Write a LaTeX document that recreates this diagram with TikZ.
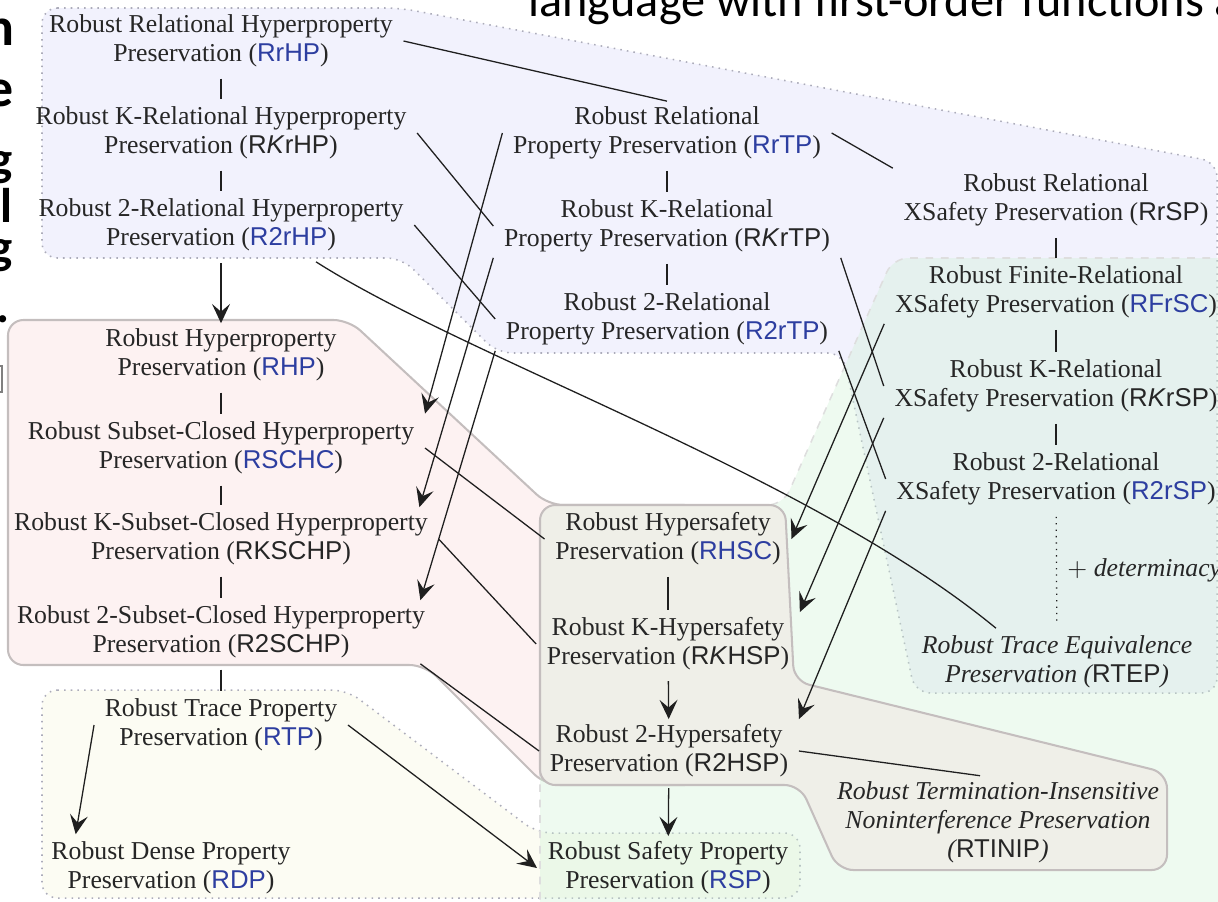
\documentclass[tikz,border=0pt]{standalone}
\usepackage{fontspec}
\setmainfont{Liberation Serif}
\newfontfamily\acrfont{Liberation Sans}
\newfontfamily\slidefont{Carlito}
\usepackage{tikz}
\usetikzlibrary{arrows.meta, calc}

\definecolor{txtgray}{RGB}{38,38,38}
\definecolor{acblue}{RGB}{45,62,160}
\definecolor{relfill}{RGB}{242,242,253}
\definecolor{hyperfill}{RGB}{253,242,242}
\definecolor{hsafefill}{RGB}{239,239,232}
\definecolor{tracefill}{RGB}{252,252,243}
\definecolor{safefill}{RGB}{206,241,212}
\definecolor{dotedge}{RGB}{172,172,186}
\definecolor{solidedge}{RGB}{196,190,190}

\newcommand{\acr}[1]{{\acrfont\upshape #1}}
\newcommand{\bacr}[1]{\textcolor{acblue}{\acrfont\upshape #1}}

\begin{document}
\begin{tikzpicture}[x=0.39pt, y=-0.39pt,
    prop/.style={align=center, text=txtgray, inner xsep=4pt, inner ysep=2pt, font=\fontsize{10.05}{11.3}\selectfont},
    itprop/.style={prop, font=\fontsize{10.05}{11.3}\selectfont\itshape},
    link/.style={line width=0.5pt, draw=black!88},
    vlink/.style={link, shorten <=2.3pt, shorten >=0.8pt},
    arr/.style={link, -{Stealth[length=7.5pt, width=7pt, inset=3pt]}},
    region/.style={rounded corners=6pt, line width=0.6pt}]
    \useasboundingbox (0,0) rectangle (1218,901);
    \clip (0,0) rectangle (1218,901);

    % Slide text cut off at the edges
    \node[anchor=base west, inner sep=0, font=\slidefont\fontsize{18.8}{20}\selectfont] (slidetitle) at (528,16) {language with first-order functions a};
    \node[anchor=base east, inner sep=0, font=\slidefont\bfseries\fontsize{21}{22}\selectfont] (cutn) at (15,45) {n};
    \node[anchor=base east, inner sep=0, font=\slidefont\bfseries\fontsize{21}{22}\selectfont] (cute) at (14,106) {e};
    \node[anchor=base east, inner sep=0, font=\slidefont\bfseries\fontsize{19}{20}\selectfont] (cutg) at (13,175) {g};
    \node[anchor=base east, inner sep=0, font=\slidefont\bfseries\fontsize{19}{20}\selectfont] (cutl) at (13,222) {l};
    \node[anchor=base east, inner sep=0, font=\slidefont\bfseries\fontsize{19}{20}\selectfont] (cutgg) at (13,263) {g};
    \node[anchor=base east, inner sep=0, font=\slidefont\bfseries\fontsize{19}{20}\selectfont] (cutdot) at (10,322) {.};
    \draw[gray, line width=0.8pt] (-10,366) rectangle (2,392);

    % Regions
    \draw[region, fill=relfill, draw=dotedge, dotted] (42,8) -- (400,8) -- (1217,162) -- (1217,693) -- (915,693) -- (843,353) -- (497,353) -- (402,258) -- (42,258) -- cycle;
    \draw[region, fill=tracefill, draw=dotedge, dotted] (42,690) -- (347,690) -- (537,833) -- (800,833) -- (800,898) -- (42,898) -- cycle;
    \draw[region, fill=hyperfill, draw=solidedge, line width=0.8pt] (8,320) -- (349,320) -- (548,505) -- (700,505) -- (700,785) -- (545,785) -- (425,665) -- (8,665) -- cycle;
    \draw[region, fill=safefill, fill opacity=0.35, draw=black!13, dashed] (540,505) -- (783,505) -- (893,258) -- (1240,258) -- (1240,920) -- (540,920) -- cycle;
    \draw[region, fill=hsafefill, draw=solidedge, line width=0.8pt] (540,505) -- (785,505) -- (794,681) -- (1167,773) -- (1167,870) -- (838,870) -- (800,785) -- (540,785) -- cycle;

    % Relational hyperproperties
    \node[prop] (rrhp) at (221,41) {Robust Relational Hyperproperty\\Preservation (\bacr{RrHP})};
    \node[prop] (rkrhp) at (221,133) {Robust K-Relational Hyperproperty\\Preservation (\acr{R\textit{K}rHP})};
    \node[prop] (r2rhp) at (221,225) {Robust 2-Relational Hyperproperty\\Preservation (\bacr{R2rHP})};

    % Relational trace properties
    \node[prop] (rrtp) at (667,133) {Robust Relational\\Property Preservation (\bacr{RrTP})};
    \node[prop] (rkrtp) at (667,226) {Robust K-Relational\\Property Preservation (\acr{R\textit{K}rTP})};
    \node[prop] (r2rtp) at (667,319) {Robust 2-Relational\\Property Preservation (\bacr{R2rTP})};

    % Relational safety
    \node[prop] (rrsp) at (1056,200) {Robust Relational\\XSafety Preservation (\acr{RrSP})};
    \node[prop] (rfrsc) at (1056,292) {Robust Finite-Relational\\XSafety Preservation (\bacr{RFrSC})};
    \node[prop] (rkrsp) at (1056,386) {Robust K-Relational\\XSafety Preservation (\acr{R\textit{K}rSP})};
    \node[prop] (r2rsp) at (1056,479) {Robust 2-Relational\\XSafety Preservation (\bacr{R2rSP})};
    \node[itprop] (rtep) at (1057,662) {Robust Trace Equivalence\\Preservation (\acr{RTEP})};

    % Hyperproperties
    \node[prop] (rhp) at (221,355) {Robust Hyperproperty\\Preservation (\bacr{RHP})};
    \node[prop] (rschc) at (221,448) {Robust Subset-Closed Hyperproperty\\Preservation (\bacr{RSCHC})};
    \node[prop] (rkschp) at (221,539) {Robust K-Subset-Closed Hyperproperty\\Preservation (\acr{RKSCHP})};
    \node[prop] (r2schp) at (221,632) {Robust 2-Subset-Closed Hyperproperty\\Preservation (\acr{R2SCHP})};

    % Hypersafety
    \node[prop] (rhsc) at (668,539) {Robust Hypersafety\\Preservation (\bacr{RHSC})};
    \node[prop] (rkhsp) at (668,644) {Robust K-Hypersafety\\Preservation (\acr{R\textit{K}HSP})};
    \node[prop] (r2hsp) at (669,751) {Robust 2-Hypersafety\\Preservation (\acr{R2HSP})};
    \node[itprop] (rtinip) at (998,822) {Robust Termination-Insensitive\\Noninterference Preservation\\(\acr{RTINIP})};

    % Trace properties
    \node[prop] (rtp) at (221,725) {Robust Trace Property\\Preservation (\bacr{RTP})};
    \node[prop] (rdp) at (171,868) {Robust Dense Property\\Preservation (\bacr{RDP})};
    \node[prop] (rsp) at (668,868) {Robust Safety Property\\Preservation (\bacr{RSP})};

    % Vertical chains
    \draw[vlink] (rrhp) -- (rkrhp);
    \draw[vlink] (rkrhp) -- (r2rhp);
    \draw[vlink] (rrtp) -- (rkrtp);
    \draw[vlink] (rkrtp) -- (r2rtp);
    \draw[vlink] (rrsp) -- (rfrsc);
    \draw[vlink] (rfrsc) -- (rkrsp);
    \draw[vlink] (rkrsp) -- (r2rsp);
    \draw[link, dotted, shorten <=2.3pt, shorten >=2.3pt] (r2rsp) -- node[right, inner sep=4pt, text=txtgray, font=\fontsize{10.05}{11.3}\selectfont] (determ) {$+$ \textit{determinacy}} (rtep);
    \draw[vlink] (rhp) -- (rschc);
    \draw[vlink] (rschc) -- (rkschp);
    \draw[vlink] (rkschp) -- (r2schp);
    \draw[vlink] (r2schp) -- (rtp);
    \draw[vlink] (rhsc) -- (rkhsp);
    \draw[arr, shorten <=2.5pt] (r2rhp) -- (rhp);
    \draw[arr, shorten <=2pt] (rkhsp) -- (r2hsp);
    \draw[arr, shorten <=2pt] (r2hsp) -- (rsp);

    % Relational links
    \draw[link] (rrhp.east) -- (rrtp.north);
    \draw[link] (rrtp.east) -- (rrsp.north west);
    \draw[link] (rkrhp.east) -- (rkrtp.west);
    \draw[link] (r2rhp.east) -- (r2rtp.west);
    \draw[link] (rkrtp.south east) -- (rkrsp.west);
    \draw[link] (r2rtp.south east) -- (r2rsp.west);
    \draw[link] ($(r2rhp.south)+(95,5)$) .. controls (470,360) and (810,475) .. ($(rtep.north west)+(85,-2)$);

    % Into hyperproperties and hypersafety
    \draw[arr] (rrtp.west) -- ([yshift=1pt]rschc.north east);
    \draw[arr] (rkrtp.south west) -- ([xshift=-7.5pt]rkschp.north east);
    \draw[arr] (r2rtp.south west) -- ([xshift=-6pt]r2schp.north east);
    \draw[arr] (rfrsc.south west) -- (rhsc.east);
    \draw[arr] (rkrsp.south west) -- (rkhsp.north east);
    \draw[arr] (r2rsp.south west) -- (r2hsp.north east);
    \draw[link] (rschc.east) -- (rhsc.west);
    \draw[link] (rkschp.east) -- (rkhsp.west);
    \draw[link] ([xshift=-6pt]r2schp.south east) -- (r2hsp.west);
    \draw[link] (r2hsp.east) -- ($(rtinip.north)+(-18,0)$);

    % Trace and safety
    \draw[arr] (rtp.west) -- ($(rdp.north west)+(35,-2)$);
    \draw[arr] (rtp.east) -- (rsp.west);
\end{tikzpicture}
\end{document}
